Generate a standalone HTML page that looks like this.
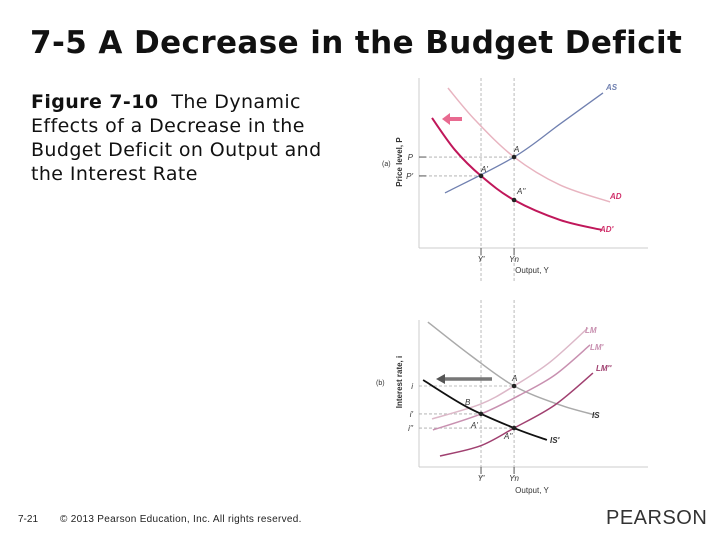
<!DOCTYPE html>
<html><head><meta charset="utf-8">
<style>
html,body{margin:0;padding:0;background:#fff;}
body{width:720px;height:540px;position:relative;overflow:hidden;font-family:"Liberation Sans","DejaVu Sans",sans-serif;}
#title{position:absolute;left:30px;top:25px;font-size:31px;font-weight:bold;color:#111;white-space:nowrap;letter-spacing:0.4px;font-family:"DejaVu Sans","Liberation Sans",sans-serif;}
#caption{position:absolute;left:31px;top:90px;font-size:19px;line-height:24px;letter-spacing:0.4px;color:#111;width:305px;font-family:"DejaVu Sans","Liberation Sans",sans-serif;}
#foot-num{position:absolute;left:18px;top:514px;font-size:10px;color:#222;}
#foot-copy{position:absolute;left:60px;top:514px;font-size:10px;color:#222;letter-spacing:0.3px;}
#pearson{position:absolute;left:606px;top:507px;font-size:20px;color:#333;letter-spacing:0.5px;}
svg{position:absolute;left:0;top:0;}
</style></head><body>
<div id="title">7-5 A Decrease in the Budget Deficit</div>
<div id="caption"><b>Figure 7-10</b>&nbsp; The Dynamic Effects of a Decrease in the Budget Deficit on Output and the Interest Rate</div>
<div id="foot-num">7-21</div>
<div id="foot-copy">© 2013 Pearson Education, Inc. All rights reserved.</div>
<div id="pearson">PEARSON</div>
<svg id="chart" width="720" height="540"></svg>
<script>
// Panel a data (domain 0-100)
const asX=[11.4,41.7,61.8,80.7];
const asY=[32.4,53.5,72.9,91.2];
const adX=[12.7,24.6,41.7,61.8,83.8];
const adY=[94.1,75.3,53.5,37.1,27.1];
const ad2X=[5.7,15.8,27.2,41.7,61.8,80.3];
const ad2Y=[76.5,57.6,42.4,28.2,16.5,10.6];
const aTickX=[27.2,41.7];
const aTickXLabels=["Y'","Yn"];
const aTickY=[53.5,42.4];
const aTickYLabels=["P","P'"];
// Panel b data
const isX=[3.9,22.4,41.7,61.8,77.2];
const isY=[98.6,76.2,55.1,42.2,35.4];
const is2X=[1.8,21.1,41.7,56.1];
const is2Y=[59.2,40.8,26.5,18.4];
const lmX=[5.7,27.2,41.7,57.5,74.1];
const lmY=[32.7,42.9,55.1,71.4,94.6];
const lm2X=[6.1,27.2,44.3,59.6,75];
const lm2Y=[25.2,36.1,49,62.6,83];
const lm3X=[9.2,26.8,41.7,59.6,76.3];
const lm3Y=[7.5,14.3,26.5,42.2,63.9];
const bTickY=[55.1,36.1,26.5];
const bTickYLabels=["i","i'","i''"];

const NS="http://www.w3.org/2000/svg";
const svg=document.getElementById('chart');
function mk(tag,attrs,parent){const e=document.createElementNS(NS,tag);for(const k in attrs)e.setAttribute(k,attrs[k]);(parent||svg).appendChild(e);return e;}
const xS=v=>419+v*2.28;
const yA=v=>248-v*1.7;
const yB=v=>467-v*1.47;
function smooth(xs,ys,ys_fn){
  const p=xs.map((x,i)=>[xS(x),ys_fn(ys[i])]);
  let d=`M${p[0][0]},${p[0][1]}`;
  for(let i=0;i<p.length-1;i++){
    const p0=p[i-1]||p[i],p1=p[i],p2=p[i+1],p3=p[i+2]||p[i+1];
    const c1=[p1[0]+(p2[0]-p0[0])/6,p1[1]+(p2[1]-p0[1])/6];
    const c2=[p2[0]-(p3[0]-p1[0])/6,p2[1]-(p3[1]-p1[1])/6];
    d+=` C${c1[0]},${c1[1]} ${c2[0]},${c2[1]} ${p2[0]},${p2[1]}`;
  }
  return d;
}
function txt(x,y,s,attrs){const t=mk('text',Object.assign({x:x,y:y,'font-size':8,fill:'#333'},attrs||{}));t.textContent=s;return t;}

// ---- Panel a ----
let e;
e=mk('line',{x1:419,y1:78,x2:419,y2:248,stroke:'#ccc','stroke-width':1});

e=mk('line',{x1:419,y1:248,x2:648,y2:248,stroke:'#ccc','stroke-width':1});

aTickX.forEach((v,i)=>{
  e=mk('line',{x1:xS(v),y1:78,x2:xS(v),y2:282,stroke:'#aaa','stroke-width':0.8,'stroke-dasharray':'3,2'});
  
  e=mk('line',{x1:xS(v),y1:248,x2:xS(v),y2:255,stroke:'#555','stroke-width':1});
  
  e=txt(xS(v),262,aTickXLabels[i],{'text-anchor':'middle','font-style':'italic'});
  
});
aTickY.forEach((v,i)=>{
  e=mk('line',{x1:419,y1:yA(v),x2:xS(aTickX[1-i]),y2:yA(v),stroke:'#aaa','stroke-width':0.8,'stroke-dasharray':'3,2'});
  
  e=mk('line',{x1:419,y1:yA(v),x2:426,y2:yA(v),stroke:'#555','stroke-width':1});
  
  e=txt(413,yA(v)+3,aTickYLabels[i],{'text-anchor':'end','font-style':'italic'});
  
});
e=txt(532,273,'Output, Y',{'text-anchor':'middle'});

e=txt(0,0,'Price level, P',{'text-anchor':'middle','transform':'translate(402,162) rotate(-90)','font-weight':'bold'});

e=txt(382,166,'(a)',{'font-size':7});


e=mk('path',{d:smooth(adX,adY,yA),fill:'none',stroke:'#e8b4c0','stroke-width':1.5});

e=mk('path',{d:smooth(asX,asY,yA),fill:'none',stroke:'#7080b0','stroke-width':1.3});

e=mk('path',{d:smooth(ad2X,ad2Y,yA),fill:'none',stroke:'#c0175a','stroke-width':2});

e=mk('path',{d:'M462,119 L449,119',stroke:'#e86a90','stroke-width':4,fill:'none'});

e=mk('polygon',{points:'442,119 450,113 450,125',fill:'#e86a90'});

[[41.7,53.5],[27.2,42.4],[41.7,28.2]].forEach((p,i)=>{
  e=mk('circle',{cx:xS(p[0]),cy:yA(p[1]),r:2.3,fill:'#222'});
  
});
e=txt(514,152,'A',{'font-style':'italic'});
e=txt(481,172,"A'",{'font-style':'italic'});
e=txt(517,194,"A''",{'font-style':'italic'});
e=txt(606,90,'AS',{'font-style':'italic','font-weight':'bold',fill:'#7080b0'});
e=txt(610,199,'AD',{'font-style':'italic','font-weight':'bold',fill:'#d0306a'});
e=txt(600,232,"AD'",{'font-style':'italic','font-weight':'bold',fill:'#d0306a'});

// ---- Panel b ----
e=mk('line',{x1:419,y1:320,x2:419,y2:467,stroke:'#ccc','stroke-width':1});

e=mk('line',{x1:419,y1:467,x2:648,y2:467,stroke:'#ccc','stroke-width':1});

aTickX.forEach((v,i)=>{
  e=mk('line',{x1:xS(v),y1:300,x2:xS(v),y2:480,stroke:'#aaa','stroke-width':0.8,'stroke-dasharray':'3,2'});
  
  e=mk('line',{x1:xS(v),y1:467,x2:xS(v),y2:474,stroke:'#555','stroke-width':1});
  
  e=txt(xS(v),481,aTickXLabels[i],{'text-anchor':'middle','font-style':'italic'});
  
});
const bGuideEnd=[41.7,27.2,41.7];
bTickY.forEach((v,i)=>{
  e=mk('line',{x1:419,y1:yB(v),x2:xS(bGuideEnd[i]),y2:yB(v),stroke:'#aaa','stroke-width':0.8,'stroke-dasharray':'3,2'});
  
  e=txt(413,yB(v)+3,bTickYLabels[i],{'text-anchor':'end','font-style':'italic'});
  
});
e=txt(532,493,'Output, Y',{'text-anchor':'middle'});

e=txt(0,0,'Interest rate, i',{'text-anchor':'middle','transform':'translate(402,382) rotate(-90)','font-weight':'bold'});

e=txt(376,385,'(b)',{'font-size':7});


e=mk('path',{d:smooth(isX,isY,yB),fill:'none',stroke:'#aaa','stroke-width':1.5});

e=mk('path',{d:smooth(lmX,lmY,yB),fill:'none',stroke:'#dcb8c8','stroke-width':1.5});

e=mk('path',{d:smooth(lm2X,lm2Y,yB),fill:'none',stroke:'#c890b0','stroke-width':1.5});

e=mk('path',{d:smooth(lm3X,lm3Y,yB),fill:'none',stroke:'#a04070','stroke-width':1.5});

e=mk('path',{d:smooth(is2X,is2Y,yB),fill:'none',stroke:'#111','stroke-width':1.8});

e=mk('path',{d:'M492,379 L444,379',stroke:'#777','stroke-width':3.5,fill:'none'});

e=mk('polygon',{points:'436,379 445,374 445,384',fill:'#555'});

[[41.7,55.1],[27.2,36.1],[41.7,26.5]].forEach((p,i)=>{
  e=mk('circle',{cx:xS(p[0]),cy:yB(p[1]),r:2.3,fill:'#222'});
  
});
e=txt(512,381,'A',{'font-style':'italic'});
e=txt(465,405,'B',{'font-style':'italic'});
e=txt(471,428,"A'",{'font-style':'italic'});
e=txt(504,439,"A''",{'font-style':'italic'});
e=txt(585,333,'LM',{'font-style':'italic','font-weight':'bold',fill:'#c890b0'});
e=txt(590,350,"LM'",{'font-style':'italic','font-weight':'bold',fill:'#c890b0'});
e=txt(596,371,"LM''",{'font-style':'italic','font-weight':'bold',fill:'#a04070'});
e=txt(592,418,'IS',{'font-style':'italic','font-weight':'bold',fill:'#333'});
e=txt(550,443,"IS'",{'font-style':'italic','font-weight':'bold',fill:'#333'});
</script>
</body></html>
